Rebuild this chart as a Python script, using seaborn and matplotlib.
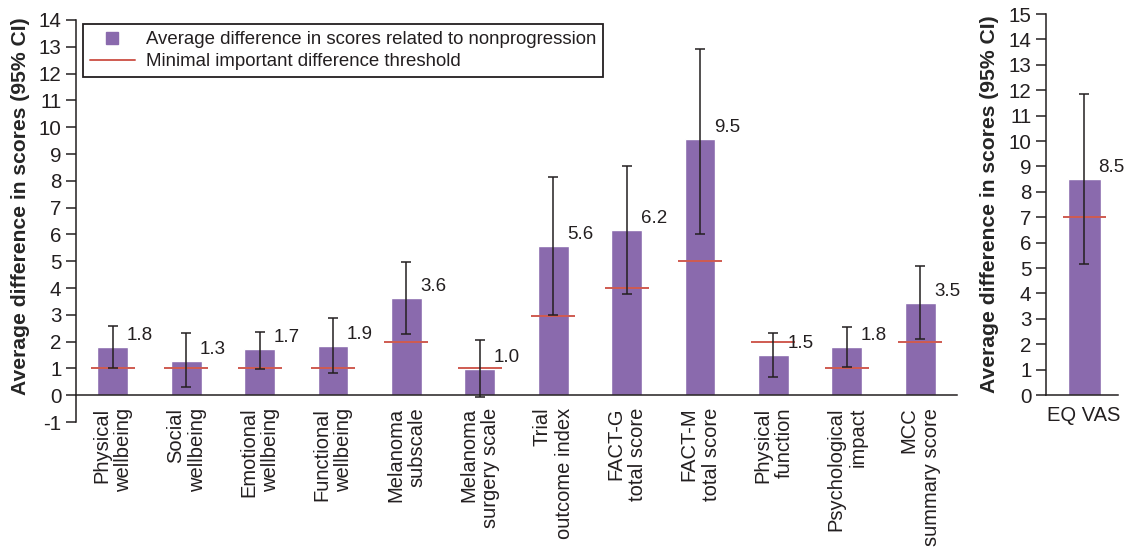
import numpy as np
import pandas as pd
import seaborn as sns
import matplotlib.pyplot as plt
from matplotlib.lines import Line2D

# main panel
categories = ["Physical\nwellbeing", "Social\nwellbeing", "Emotional\nwellbeing",
              "Functional\nwellbeing", "Melanoma\nsubscale", "Melanoma\nsurgery scale",
              "Trial\noutcome index", "FACT-G\ntotal score", "FACT-M\ntotal score",
              "Physical\nfunction", "Psychological\nimpact", "MCC\nsummary score"]
means = [1.8, 1.27, 1.73, 1.85, 3.62, 0.98, 5.57, 6.17, 9.57, 1.5, 1.8, 3.44]
ci_low = [1.0, 0.3, 0.97, 0.83, 2.28, -0.08, 2.98, 3.76, 6.03, 0.68, 1.05, 2.09]
ci_high = [2.57, 2.31, 2.37, 2.88, 4.96, 2.07, 8.13, 8.57, 12.93, 2.32, 2.56, 4.81]
mid = [1, 1, 1, 1, 2, 1, 2.95, 4, 5, 2, 1, 2]
value_labels = ["1.8", "1.3", "1.7", "1.9", "3.6", "1.0", "5.6", "6.2", "9.5", "1.5", "1.8", "3.5"]

# EQ VAS panel
eq_category = ["EQ VAS"]
eq_mean = [8.52]
eq_low = [5.15]
eq_high = [11.85]
eq_mid = [7.0]
eq_label = ["8.5"]

purple = "#8a6aad"
red = "#cf5b51"
dark = "#231f20"
ylab = "Average difference in scores (95% CI)"

sns.set_style("ticks")
plt.rcParams["font.family"] = ["Liberation Sans", "DejaVu Sans"]
plt.rcParams["text.color"] = dark
plt.rcParams["axes.unicode_minus"] = False


def draw_panel(ax, cats, vals, lo, hi, thr, labs, bar_w):
    df = pd.DataFrame({"measure": cats, "mean": vals})
    sns.barplot(data=df, x="measure", y="mean", color=purple, saturation=1,
                width=bar_w, ax=ax, zorder=2)
    x = np.arange(len(cats))
    m = np.array(vals)
    ax.hlines(thr, x - 0.3, x + 0.3, color=red, lw=1.4, zorder=3)
    ax.errorbar(x, m, yerr=[m - np.array(lo), np.array(hi) - m], fmt="none",
                ecolor=dark, elinewidth=1.1, capsize=3.5, capthick=1.1, zorder=4)
    for xi, yi, t in zip(x, m, labs):
        ax.annotate(t, (xi, yi), xytext=(10, 2), textcoords="offset points",
                    ha="left", va="bottom", fontsize=13.5, color=dark)
    ax.set_xlabel("")
    sns.despine(ax=ax)
    for s in ["left", "bottom"]:
        ax.spines[s].set_color(dark)
        ax.spines[s].set_linewidth(1.1)
    ax.tick_params(axis="y", length=7, width=1.1, colors=dark, labelsize=14.8)
    ax.tick_params(axis="x", length=0, colors=dark, labelsize=14.5)


fig = plt.figure(figsize=(11.28, 5.6), dpi=100)

ax = fig.add_axes([0.0674, 0.2464, 0.781, 0.7179])
draw_panel(ax, categories, means, ci_low, ci_high, mid, value_labels, 0.42)
ax.set_xlim(-0.5, len(categories) - 0.5)
ax.set_ylim(-1, 14)
ax.set_yticks(range(-1, 15))
ax.spines["bottom"].set_position(("data", 0))
ax.tick_params(axis="x", pad=9)
for lbl in ax.get_xticklabels():
    lbl.set_rotation(90)
    lbl.set_ha("center")
    lbl.set_va("top")
    lbl.set_multialignment("right")
ax.set_ylabel(ylab, fontsize=15.2, fontweight="bold")
ax.yaxis.set_label_coords(-0.052, 0.537)

handles = [Line2D([], [], marker="s", ls="none", color=purple, markersize=8),
           Line2D([], [], color=red, lw=1.4)]
leg = ax.legend(handles, ["Average difference in scores related to nonprogression",
                          "Minimal important difference threshold"],
                loc="upper left", bbox_to_anchor=(0.008, 0.99), fontsize=13.4,
                frameon=True, fancybox=False, edgecolor=dark, framealpha=1,
                handlelength=2.4, handletextpad=0.6, labelspacing=0.28,
                borderpad=0.38, borderaxespad=0)
leg.get_frame().set_linewidth(1.3)

ax2 = fig.add_axes([0.9273, 0.2946, 0.0638, 0.6804])
draw_panel(ax2, eq_category, eq_mean, eq_low, eq_high, eq_mid, eq_label, 0.46)
ax2.set_xlim(-0.53, 0.47)
ax2.set_ylim(0, 15)
ax2.set_yticks(range(0, 16))
ax2.tick_params(axis="x", pad=8)
ax2.set_ylabel(ylab, fontsize=15.2, fontweight="bold")
ax2.yaxis.set_label_coords(-0.65, 0.5)

fig.savefig("out.png", dpi=100)
